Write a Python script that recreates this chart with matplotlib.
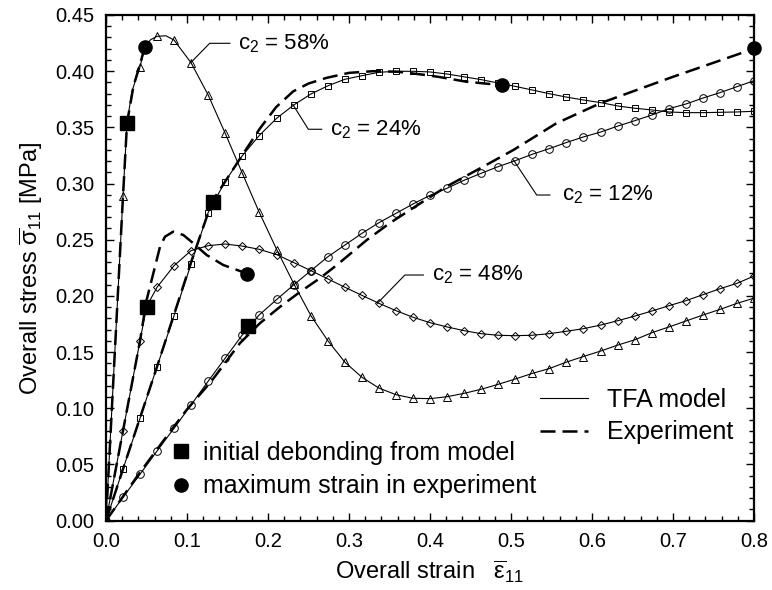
import matplotlib
matplotlib.use('Agg')
from matplotlib import pyplot as plt
from matplotlib.lines import Line2D
from matplotlib.ticker import MultipleLocator

plt.rcParams['font.family'] = 'Liberation Sans'
plt.rcParams['mathtext.fontset'] = 'custom'
plt.rcParams['mathtext.rm'] = 'Liberation Sans'
plt.rcParams['mathtext.it'] = 'Liberation Sans'

# strain grid on which the model markers sit
grid = [0, 0.021, 0.042, 0.063, 0.084, 0.105, 0.126, 0.147, 0.168, 0.189,
        0.211, 0.232, 0.253, 0.274, 0.295, 0.316, 0.337, 0.358, 0.379, 0.4,
        0.421, 0.442, 0.463, 0.484, 0.505, 0.526, 0.547, 0.568, 0.589, 0.611,
        0.632, 0.653, 0.674, 0.695, 0.716, 0.737, 0.758, 0.779, 0.8]

# TFA model, c2 = 12% (circles)
tfa12 = [0, 0.0208, 0.0413, 0.062, 0.0822, 0.103, 0.124, 0.1445, 0.165, 0.183,
         0.197, 0.21, 0.2225, 0.2349, 0.2453, 0.2557, 0.2652, 0.2735, 0.2818, 0.2895,
         0.2958, 0.3029, 0.3091, 0.315, 0.3203, 0.326, 0.331, 0.3364, 0.3414, 0.3459,
         0.3512, 0.356, 0.361, 0.3666, 0.3708, 0.3761, 0.3809, 0.3862, 0.3915]

# TFA model, c2 = 24% (squares)
tfa24 = [0, 0.046, 0.0911, 0.137, 0.1824, 0.2284, 0.274, 0.3017, 0.3245, 0.3426,
         0.3583, 0.370, 0.3797, 0.387, 0.3928, 0.396, 0.399, 0.3999, 0.3999, 0.3993,
         0.3975, 0.395, 0.3925, 0.3895, 0.3865, 0.3833, 0.380, 0.377, 0.3744, 0.372,
         0.369, 0.367, 0.3655, 0.3637, 0.3631, 0.3631, 0.3634, 0.3637, 0.3643]

# TFA model, c2 = 48% (diamonds), extra point at debonding
x48 = grid[:3] + [0.050] + grid[3:]
tfa48 = [0, 0.080, 0.160, 0.1904, 0.2077, 0.2269, 0.2403, 0.2447, 0.2462, 0.2444,
         0.2415, 0.2367, 0.2296, 0.2225, 0.2151, 0.2077, 0.2005, 0.1934, 0.1869, 0.181,
         0.1762, 0.1724, 0.1691, 0.1664, 0.165, 0.1646, 0.165, 0.1664, 0.1685, 0.1708,
         0.1741, 0.178, 0.1821, 0.1866, 0.1913, 0.1958, 0.2011, 0.2064, 0.2112, 0.2177]

# TFA model, c2 = 58% (triangles), extra points on the steep part
x58 = [0, 0.021, 0.026, 0.032, 0.042, 0.048, 0.055, 0.063, 0.074] + grid[4:]
tfa58 = [0, 0.289, 0.354, 0.382, 0.404, 0.4215, 0.428, 0.431, 0.4315, 0.4277,
         0.4075, 0.379, 0.345, 0.3097, 0.2747, 0.2409, 0.2106, 0.1824, 0.160, 0.141,
         0.1276, 0.118, 0.1121, 0.1089, 0.1086, 0.1103, 0.1133, 0.1169, 0.1213, 0.126,
         0.131, 0.1353, 0.141, 0.146, 0.151, 0.1563, 0.161, 0.1673, 0.1724, 0.1777,
         0.183, 0.188, 0.1934, 0.198]

# experiments
exp12_x = [0, 0.04, 0.08, 0.1, 0.13, 0.1654, 0.19, 0.215, 0.24, 0.264, 0.285,
           0.322, 0.35, 0.388, 0.42, 0.462, 0.503, 0.556, 0.61, 0.7, 0.8]
exp12_y = [0, 0.041, 0.080, 0.099, 0.124, 0.158, 0.1757, 0.1904, 0.2038, 0.2157, 0.2275,
           0.2498, 0.2646, 0.2824, 0.2972, 0.3136, 0.3299, 0.3536, 0.3714, 0.395, 0.42]
exp24_x = [0, 0.021, 0.063, 0.105, 0.131, 0.15, 0.168, 0.19, 0.21, 0.231, 0.25,
           0.272, 0.3, 0.33, 0.36, 0.39, 0.41, 0.445, 0.474, 0.489]
exp24_y = [0, 0.046, 0.137, 0.23, 0.284, 0.305, 0.325, 0.349, 0.368, 0.382, 0.389,
           0.394, 0.3985, 0.4, 0.3995, 0.397, 0.395, 0.3906, 0.3886, 0.3877]
exp48_x = [0, 0.021, 0.042, 0.050, 0.0584, 0.0667, 0.0728, 0.083, 0.0955, 0.1078,
           0.1243, 0.1448, 0.1745]
exp48_y = [0, 0.080, 0.160, 0.196, 0.220, 0.2438, 0.2527, 0.2572, 0.2542, 0.2468,
           0.2364, 0.2275, 0.2198]
exp58_x = [0, 0.021, 0.026, 0.034, 0.042, 0.048]
exp58_y = [0, 0.289, 0.354, 0.387, 0.406, 0.422]

# initial debonding (model) and maximum strain (experiment)
debond_x = [0.0263, 0.0502, 0.1317, 0.1757]
debond_y = [0.3536, 0.1904, 0.2833, 0.1733]
maxstrain_x = [0.048, 0.1745, 0.489, 0.8]
maxstrain_y = [0.4218, 0.2198, 0.3877, 0.4203]

labels = ['c$_2$ = 58%', 'c$_2$ = 24%', 'c$_2$ = 12%', 'c$_2$ = 48%']

fig = plt.figure(figsize=(7.72, 5.9), dpi=100)
ax = fig.add_axes([0.1373, 0.1175, 0.8394, 0.8571])

dash = (0, (6, 2.8))
ax.plot(exp12_x, exp12_y, color='k', lw=1.8, ls=dash)
ax.plot(exp24_x, exp24_y, color='k', lw=1.8, ls=dash)
ax.plot(exp48_x, exp48_y, color='k', lw=1.8, ls=dash)
ax.plot(exp58_x, exp58_y, color='k', lw=1.8, ls=dash)

mk = dict(color='k', lw=0.8, mfc='none', mew=0.7)
ax.plot(grid, tfa12, marker='o', ms=5.5, **mk)
ax.plot(grid, tfa24, marker='s', ms=4.5, **mk)
ax.plot(x48, tfa48, marker='D', ms=3.8, markevery=[i for i in range(len(x48)) if i != 3], **mk)
ax.plot(x58, tfa58, marker='^', ms=5.5,
        markevery=[0, 1, 4, 7] + list(range(9, len(x58))), **mk)

ax.plot(debond_x, debond_y, 's', color='k', ms=9.5, zorder=5)
ax.plot(maxstrain_x, maxstrain_y, 'o', color='k', ms=9.5, zorder=5, clip_on=False)

# leader lines for the volume fraction labels
leaders = [([0.1045, 0.128, 0.153], [0.4075, 0.4248, 0.4248]),
           ([0.2305, 0.2498, 0.2663], [0.3705, 0.3483, 0.3483]),
           ([0.503, 0.5317, 0.548], [0.321, 0.2898, 0.2898]),
           ([0.335, 0.369, 0.3918], [0.1934, 0.2186, 0.2186])]
label_pos = [(0.163, 0.4248), (0.277, 0.3483), (0.563, 0.2898), (0.402, 0.2186)]
for (lx, ly), (tx, ty), lab in zip(leaders, label_pos, labels):
    ax.plot(lx, ly, color='k', lw=0.8)
    ax.text(tx, ty, lab, fontsize=16, va='center', ha='left')

ax.set_xlim(0, 0.8)
ax.set_ylim(0, 0.45)
ax.xaxis.set_major_locator(MultipleLocator(0.1))
ax.xaxis.set_minor_locator(MultipleLocator(0.02))
ax.yaxis.set_major_locator(MultipleLocator(0.05))
ax.yaxis.set_minor_locator(MultipleLocator(0.01))
ax.xaxis.set_major_formatter(plt.FormatStrFormatter('%.1f'))
ax.yaxis.set_major_formatter(plt.FormatStrFormatter('%.2f'))
ax.tick_params(which='both', direction='in', top=True, right=True, labelsize=14.5, width=1)
ax.tick_params(which='major', length=6, pad=8.5)
ax.tick_params(which='minor', length=3.5)
for s in ax.spines.values():
    s.set_linewidth(1.6)

ax.set_xlabel(r'Overall strain   $\overline{\varepsilon}_{11}$', fontsize=17, labelpad=5)
ax.set_ylabel(r'Overall stress $\overline{\sigma}_{11}$ [MPa]', fontsize=17, labelpad=7)

h1 = [Line2D([], [], marker='s', ls='none', color='k', ms=9.5),
      Line2D([], [], marker='o', ls='none', color='k', ms=9.5)]
leg1 = ax.legend(h1, ['initial debonding from model', 'maximum strain in experiment'],
                 loc='center left', bbox_to_anchor=(0.0965, 0.101), frameon=False,
                 fontsize=18, handlelength=1, handletextpad=0.38, borderpad=0,
                 borderaxespad=0, labelspacing=0.38)
ax.add_artist(leg1)
h2 = [Line2D([], [], color='k', lw=0.8),
      Line2D([], [], color='k', lw=1.8, ls=dash)]
ax.legend(h2, ['TFA model', 'Experiment'], loc='center left', bbox_to_anchor=(0.6698, 0.207),
          frameon=False, fontsize=18, handlelength=1.92, handletextpad=0.76, borderpad=0,
          borderaxespad=0, labelspacing=0.35)

plt.savefig('out.png', dpi=100)
